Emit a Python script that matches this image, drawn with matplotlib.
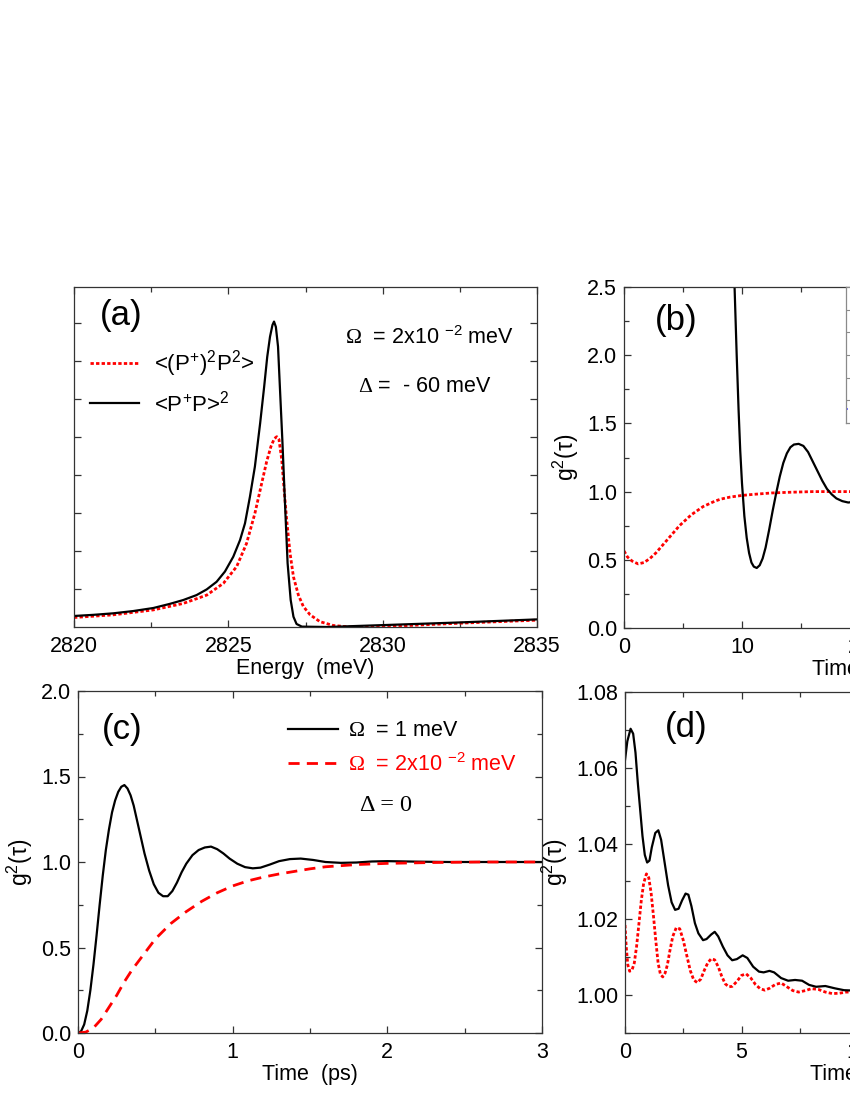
import matplotlib
matplotlib.use("Agg")
import matplotlib.pyplot as plt
from matplotlib.ticker import MultipleLocator, FormatStrFormatter, NullFormatter, FixedLocator

plt.rcParams["font.family"] = ["Liberation Sans", "DejaVu Sans"]
plt.rcParams["mathtext.fontset"] = "custom"
plt.rcParams["mathtext.rm"] = "Liberation Serif"
plt.rcParams["mathtext.default"] = "regular"

# (a) spectra, arbitrary units
a_energy_black = [2820.0, 2820.63, 2821.27, 2821.92, 2822.57, 2823.11, 2823.54, 2823.97,
                  2824.30, 2824.62, 2824.89, 2825.16, 2825.38, 2825.54, 2825.70, 2825.86,
                  2826.03, 2826.16, 2826.26, 2826.35, 2826.43, 2826.48, 2826.54, 2826.61,
                  2826.67, 2826.75, 2826.84, 2826.92, 2827.02, 2827.11, 2827.21, 2827.38,
                  2828.19, 2830.02, 2832.5, 2835.0]
a_black = [0.29, 0.32, 0.36, 0.42, 0.50, 0.61, 0.71, 0.84, 0.99, 1.19, 1.46, 1.85, 2.29,
           2.73, 3.43, 4.22, 5.36, 6.32, 7.11, 7.64, 7.95, 8.04, 7.90, 7.38, 6.32, 4.92,
           3.17, 1.68, 0.71, 0.27, 0.08, 0.01, 0.0, 0.05, 0.12, 0.20]
a_energy_red = [2820.0, 2821.27, 2822.57, 2823.54, 2824.30, 2824.84, 2825.27, 2825.59,
                2825.86, 2826.08, 2826.24, 2826.38, 2826.49, 2826.57, 2826.64, 2826.73,
                2826.80, 2826.89, 2827.0, 2827.11, 2827.27, 2827.43, 2827.65, 2827.97,
                2828.40, 2828.94, 2830.02, 2832.5, 2835.0]
a_red = [0.25, 0.32, 0.45, 0.62, 0.84, 1.15, 1.59, 2.20, 2.99, 3.78, 4.35, 4.75, 4.96,
         5.01, 4.94, 4.41, 3.69, 2.82, 1.94, 1.32, 0.84, 0.54, 0.32, 0.14, 0.04, 0.0,
         0.01, 0.10, 0.18]

# (b)
b_t_black = [9.0, 9.37, 9.55, 9.71, 9.85, 10.0, 10.2, 10.4, 10.6, 10.8, 11.0, 11.25, 11.5,
             11.75, 12.0, 12.3, 12.6, 12.9, 13.2, 13.5, 13.8, 14.1, 14.4, 14.8, 15.2, 15.6,
             16.0, 16.4, 16.8, 17.2, 17.6, 18.0, 18.5, 19.0, 19.5, 20.0]
b_black = [3.5, 2.5, 2.0, 1.6, 1.3, 1.06, 0.82, 0.66, 0.55, 0.48, 0.45, 0.44, 0.46, 0.51,
           0.59, 0.72, 0.86, 0.99, 1.11, 1.21, 1.28, 1.325, 1.345, 1.35, 1.335, 1.29, 1.22,
           1.15, 1.08, 1.02, 0.98, 0.95, 0.93, 0.92, 0.925, 0.935]
b_t_red = [0.0, 0.3, 0.7, 1.2, 1.7, 2.2, 2.7, 3.2, 3.7, 4.2, 4.7, 5.2, 5.7, 6.2, 6.7, 7.2,
           7.7, 8.2, 9.0, 10.0, 11.0, 12.5, 14.0, 16.0, 20.0]
b_red = [0.565, 0.52, 0.49, 0.47, 0.48, 0.51, 0.55, 0.60, 0.65, 0.70, 0.75, 0.79, 0.83,
         0.86, 0.89, 0.91, 0.93, 0.945, 0.96, 0.972, 0.98, 0.99, 0.995, 1.0, 1.0]
inset_t = [0.0, 10.0]
inset_blue = [0.62, 0.62]

# (c)
c_t_black = [0.0, 0.02, 0.04, 0.06, 0.08, 0.10, 0.12, 0.14, 0.16, 0.18, 0.20, 0.22, 0.24,
             0.26, 0.28, 0.30, 0.32, 0.34, 0.36, 0.38, 0.40, 0.43, 0.46, 0.49, 0.52, 0.55,
             0.58, 0.61, 0.64, 0.67, 0.70, 0.74, 0.78, 0.82, 0.86, 0.90, 0.94, 0.98, 1.03,
             1.08, 1.13, 1.18, 1.24, 1.30, 1.37, 1.44, 1.52, 1.60, 1.70, 1.80, 1.90, 2.0,
             2.2, 2.4, 2.7, 3.0]
c_black = [0.0, 0.01, 0.05, 0.13, 0.25, 0.40, 0.57, 0.75, 0.92, 1.07, 1.19, 1.29, 1.36,
           1.41, 1.44, 1.45, 1.43, 1.39, 1.33, 1.25, 1.17, 1.05, 0.95, 0.87, 0.82, 0.80,
           0.80, 0.83, 0.88, 0.94, 0.99, 1.04, 1.07, 1.085, 1.09, 1.075, 1.05, 1.02, 0.99,
           0.97, 0.963, 0.967, 0.985, 1.005, 1.017, 1.02, 1.012, 1.0, 0.995, 0.997, 1.003,
           1.005, 1.002, 1.0, 1.0, 1.0]
c_t_red = [0.0, 0.05, 0.10, 0.15, 0.20, 0.25, 0.30, 0.35, 0.40, 0.45, 0.50, 0.60, 0.70,
           0.80, 0.90, 1.0, 1.1, 1.2, 1.3, 1.4, 1.5, 1.6, 1.8, 2.0, 2.3, 2.6, 3.0]
c_red = [0.0, 0.005, 0.03, 0.08, 0.15, 0.22, 0.30, 0.37, 0.43, 0.49, 0.55, 0.64, 0.71,
         0.77, 0.82, 0.86, 0.89, 0.912, 0.93, 0.945, 0.96, 0.972, 0.985, 0.992, 0.997,
         1.0, 1.0]

# (d)
d_t_black = [0.0, 0.1, 0.24, 0.35, 0.45, 0.55, 0.65, 0.75, 0.85, 0.95, 1.05, 1.15, 1.3,
             1.43, 1.55, 1.7, 1.85, 2.0, 2.15, 2.3, 2.45, 2.6, 2.72, 2.85, 3.0, 3.15, 3.35,
             3.5, 3.7, 3.85, 4.0, 4.2, 4.4, 4.6, 4.8, 5.05, 5.25, 5.5, 5.75, 5.95, 6.2, 6.4,
             6.7, 7.0, 7.3, 7.6, 7.9, 8.2, 8.6, 9.0, 9.4, 9.8, 10.5]
d_black = [1.062, 1.067, 1.0703, 1.069, 1.064, 1.056, 1.049, 1.042, 1.037, 1.035, 1.0355,
           1.039, 1.0428, 1.0435, 1.041, 1.035, 1.029, 1.0245, 1.0225, 1.0228, 1.025,
           1.0268, 1.0265, 1.0235, 1.019, 1.0163, 1.0145, 1.0148, 1.016, 1.0167, 1.0155,
           1.0128, 1.0105, 1.0092, 1.0095, 1.0105, 1.0098, 1.0075, 1.0062, 1.006, 1.0064,
           1.006, 1.0045, 1.0038, 1.004, 1.0038, 1.0027, 1.0022, 1.0024, 1.0018, 1.0013,
           1.0012, 1.0011]
d_t_red = [0.0, 0.05, 0.12, 0.2, 0.3, 0.4, 0.5, 0.6, 0.7, 0.8, 0.92, 1.02, 1.12, 1.22,
           1.32, 1.42, 1.52, 1.62, 1.72, 1.82, 1.92, 2.05, 2.2, 2.35, 2.5, 2.65, 2.8, 2.95,
           3.1, 3.25, 3.4, 3.55, 3.7, 3.85, 4.0, 4.15, 4.3, 4.45, 4.6, 4.8, 5.0, 5.2, 5.4,
           5.6, 5.8, 6.0, 6.2, 6.45, 6.7, 6.95, 7.2, 7.45, 7.75, 8.0, 8.3, 8.6, 8.9, 9.2,
           9.5, 10.0]
d_red = [1.0185, 1.013, 1.008, 1.0063, 1.0066, 1.0085, 1.013, 1.019, 1.025, 1.0295, 1.032,
         1.031, 1.027, 1.021, 1.0145, 1.0085, 1.0055, 1.0048, 1.0058, 1.008, 1.0115,
         1.0155, 1.0178, 1.0175, 1.0145, 1.0105, 1.0065, 1.004, 1.0033, 1.0042, 1.0065,
         1.0085, 1.0096, 1.0093, 1.0075, 1.005, 1.003, 1.0022, 1.0023, 1.0036, 1.0052,
         1.0056, 1.0045, 1.0028, 1.0017, 1.0013, 1.0018, 1.0028, 1.0032, 1.0022, 1.0012,
         1.0008, 1.0012, 1.0017, 1.0015, 1.0008, 1.0004, 1.0005, 1.0008, 1.0008]

RED = "#ff0000"
SPINE = "#333333"
TICK_FS = 15.5
LABEL_FS = 15.5
DOT = (0, (1.2, 0.8))
DASH = (0, (4, 2.6))

W, H = 850, 1100
fig = plt.figure(figsize=(W / 100, H / 100), dpi=100)
fig.patch.set_facecolor("white")


def px_axes(left, top, right, bottom):
    return fig.add_axes([left / W, 1 - bottom / H, (right - left) / W, (bottom - top) / H])


def style(ax):
    for s in ax.spines.values():
        s.set_color(SPINE)
        s.set_linewidth(0.9)
    ax.tick_params(which="both", direction="in", top=True, right=True, color=SPINE,
                   labelsize=TICK_FS, width=0.9)
    ax.tick_params(which="major", length=5)
    ax.tick_params(which="minor", length=3.5)
    ax.tick_params(axis="x", pad=6.5)
    ax.tick_params(axis="y", pad=5)


ax_a = px_axes(74, 287, 537, 627)
ax_b = px_axes(624, 287, 1096, 628)
ax_c = px_axes(78, 691, 542, 1033)
ax_d = px_axes(625, 692, 1091, 1033)

# (a)
ax_a.plot(a_energy_red, a_red, color=RED, lw=2.0, ls=DOT, label="<(P$^{+}$)$^{2}$P$^{2}$>")
ax_a.plot(a_energy_black, a_black, color="black", lw=1.6, label="<P$^{+}$P>$^{2}$")
ax_a.set_xlim(2820, 2835)
ax_a.set_ylim(0, 8.95)
style(ax_a)
ax_a.xaxis.set_major_locator(MultipleLocator(5))
ax_a.xaxis.set_minor_locator(MultipleLocator(2.5))
ax_a.yaxis.set_major_locator(FixedLocator([1, 2, 3, 4, 5, 6, 7, 8]))
ax_a.yaxis.set_major_formatter(NullFormatter())
ax_a.set_xlabel("Energy  (meV)", fontsize=LABEL_FS, labelpad=1)
h, l = ax_a.get_legend_handles_labels()
ax_a.legend(h, l, loc="upper left", bbox_to_anchor=(0.035, 0.82), frameon=False,
            fontsize=16, handlelength=2.2, handletextpad=0.65, labelspacing=0.5,
            borderpad=0, borderaxespad=0)
ax_a.text(0.056, 0.915, "(a)", transform=ax_a.transAxes, fontsize=25, va="center")
ax_a.text(0.585, 0.85, r"$\mathrm{\Omega}$  = 2x10 $^{-2}$ meV", transform=ax_a.transAxes,
          fontsize=15.5, va="center")
ax_a.text(0.613, 0.706, r"$\mathrm{\Delta}$ =  - 60 meV", transform=ax_a.transAxes,
          fontsize=15.5, va="center")

# (b)
ax_b.plot(b_t_red, b_red, color=RED, lw=2.0, ls=DOT)
ax_b.plot(b_t_black, b_black, color="black", lw=1.6)
ax_b.set_xlim(0, 40)
ax_b.set_ylim(0, 2.5)
style(ax_b)
ax_b.xaxis.set_major_locator(MultipleLocator(10))
ax_b.xaxis.set_minor_locator(MultipleLocator(5))
ax_b.yaxis.set_major_locator(MultipleLocator(0.5))
ax_b.yaxis.set_minor_locator(MultipleLocator(0.25))
ax_b.yaxis.set_major_formatter(FormatStrFormatter("%.1f"))
ax_b.set_xlabel("Time  (ps)", fontsize=LABEL_FS, labelpad=1)
ax_b.set_ylabel("g$^{2}$(τ)", fontsize=16.5, labelpad=4)
ax_b.text(0.066, 0.903, "(b)", transform=ax_b.transAxes, fontsize=25, va="center")

ins = px_axes(846, 287, 1080, 423)
ins.plot(inset_t, inset_blue, color="blue", lw=1.2, ls=":")
ins.set_xlim(0, 10)
ins.set_ylim(0, 6)
for s in ins.spines.values():
    s.set_color("#8a8a8a")
    s.set_linewidth(0.9)
ins.yaxis.set_major_locator(FixedLocator([1, 2, 3, 4, 5]))
ins.tick_params(direction="in", length=3, color="#8a8a8a", labelleft=False,
                labelbottom=False, bottom=False)

# (c)
ax_c.plot(c_t_black, c_black, color="black", lw=1.6, label=r"$\mathrm{\Omega}$  = 1 meV")
ax_c.plot(c_t_red, c_red, color=RED, lw=2.0, ls=DASH,
          label=r"$\mathrm{\Omega}$  = 2x10 $^{-2}$ meV")
ax_c.set_xlim(0, 3)
ax_c.set_ylim(0, 2)
style(ax_c)
ax_c.xaxis.set_major_locator(MultipleLocator(1))
ax_c.xaxis.set_minor_locator(MultipleLocator(0.5))
ax_c.yaxis.set_major_locator(MultipleLocator(0.5))
ax_c.yaxis.set_minor_locator(MultipleLocator(0.25))
ax_c.yaxis.set_major_formatter(FormatStrFormatter("%.1f"))
ax_c.set_xlabel("Time  (ps)", fontsize=LABEL_FS, labelpad=1)
ax_c.set_ylabel("g$^{2}$(τ)", fontsize=16.5, labelpad=4)
leg = ax_c.legend(loc="upper left", bbox_to_anchor=(0.4526, 0.915), frameon=False,
                  fontsize=15.5, handlelength=2.3, handletextpad=0.5, labelspacing=0.55,
                  borderpad=0, borderaxespad=0)
leg.get_texts()[1].set_color(RED)
ax_c.text(0.052, 0.886, "(c)", transform=ax_c.transAxes, fontsize=25, va="center")
ax_c.text(0.608, 0.664, "Δ = 0", transform=ax_c.transAxes, fontsize=17.5, va="center",
          family="Liberation Serif")

# (d)
ax_d.plot(d_t_red, d_red, color=RED, lw=2.0, ls=DOT)
ax_d.plot(d_t_black, d_black, color="black", lw=1.6)
ax_d.set_xlim(0, 20)
ax_d.set_ylim(0.99, 1.08)
style(ax_d)
ax_d.xaxis.set_major_locator(MultipleLocator(5))
ax_d.xaxis.set_minor_locator(MultipleLocator(2.5))
ax_d.yaxis.set_major_locator(MultipleLocator(0.02))
ax_d.yaxis.set_minor_locator(MultipleLocator(0.01))
ax_d.yaxis.set_major_formatter(FormatStrFormatter("%.2f"))
ax_d.set_xlabel("Time  (ps)", fontsize=LABEL_FS, labelpad=1)
ax_d.set_ylabel("g$^{2}$(τ)", fontsize=16.5, labelpad=4)
ax_d.text(0.086, 0.897, "(d)", transform=ax_d.transAxes, fontsize=25, va="center")

fig.savefig("out.png", dpi=100, facecolor="white")
